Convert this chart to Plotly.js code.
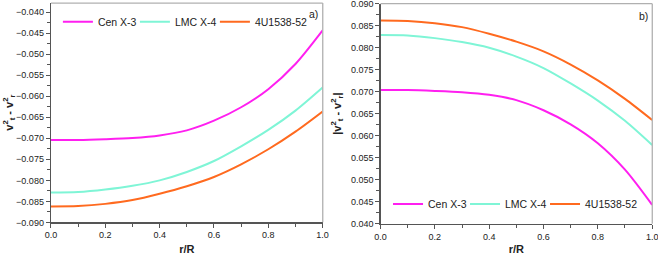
<!DOCTYPE html>
<html>
<head>
<meta charset="utf-8">
<script src="https://cdn.plot.ly/plotly-3.0.1.min.js"></script>
<style>html,body{margin:0;padding:0;background:#fff;}#chart{width:658px;height:255px;}</style>
</head>
<body>
<div id="chart"></div>
<script>
// r/R sample positions
var rR = [0.0, 0.1, 0.2, 0.3, 0.4, 0.5, 0.6, 0.7, 0.8, 0.9, 1.0];

// panel a) v_t^2 - v_r^2
var cenA  = [-0.0704, -0.0704, -0.0702, -0.0699, -0.0693, -0.0681, -0.0658, -0.0626, -0.0583, -0.0523, -0.0443];
var lmcA  = [-0.0829, -0.0828, -0.0822, -0.0813, -0.0800, -0.0780, -0.0754, -0.0719, -0.0680, -0.0634, -0.0579];
var u15A  = [-0.0862, -0.0861, -0.0856, -0.0847, -0.0832, -0.0814, -0.0792, -0.0762, -0.0726, -0.0684, -0.0636];

// panel b) |v_t^2 - v_r^2|
var cenB  = [0.0704, 0.0704, 0.0702, 0.0699, 0.0693, 0.0681, 0.0658, 0.0626, 0.0583, 0.0523, 0.0443];
var lmcB  = [0.0829, 0.0828, 0.0822, 0.0813, 0.0800, 0.0780, 0.0754, 0.0719, 0.0680, 0.0634, 0.0579];
var u15B  = [0.0862, 0.0861, 0.0856, 0.0847, 0.0832, 0.0814, 0.0792, 0.0762, 0.0726, 0.0684, 0.0636];

var names = ['Cen X-3', 'LMC X-4', '4U1538-52'];
var colors = ['#ff1ff0', '#7ff5d6', '#ff6a1f'];
// legend entry text-slot widths (px) to keep entries compact; last one natural
var entryW = [32, 35, 0];

var font = 'Liberation Sans, Arial, sans-serif';
var axCol = '#555555';

function tr(y, i, xa, ya, lg) {
  var t = {x: rR, y: y, name: names[i], type: 'scatter', mode: 'lines',
          line: {color: colors[i], width: 2, shape: 'spline', smoothing: 0.8},
          xaxis: xa, yaxis: ya, legend: lg, hoverinfo: 'skip'};
  if (entryW[i]) t.legendwidth = entryW[i];
  return t;
}

var data = [
  tr(cenA, 0, 'x', 'y', 'legend'), tr(lmcA, 1, 'x', 'y', 'legend'), tr(u15A, 2, 'x', 'y', 'legend'),
  tr(cenB, 0, 'x2', 'y2', 'legend2'), tr(lmcB, 1, 'x2', 'y2', 'legend2'), tr(u15B, 2, 'x2', 'y2', 'legend2')
];

function xBase(dom, anchor, range) {
  return {domain: dom, anchor: anchor, range: range, autorange: false,
    tick0: 0, dtick: 0.2, tickformat: '.1f', ticks: 'outside', ticklen: 4, tickwidth: 1, tickcolor: axCol,
    minor: {dtick: 0.1, ticks: 'outside', ticklen: 3, tickwidth: 1, tickcolor: axCol},
    showline: true, linecolor: axCol, linewidth: 1.3, showgrid: false, zeroline: false,
    ticklabeloverflow: 'allow',
    tickfont: {family: font, size: 9, color: '#222'},
    title: {text: '<b>r/R</b>', font: {family: font, size: 11, color: '#222'}, standoff: 6}};
}
function yBase(dom, anchor, range, t0) {
  return {domain: dom, anchor: anchor, range: range, autorange: false,
    tick0: t0, dtick: 0.005, tickformat: '.3f', ticks: 'outside', ticklen: 4, tickwidth: 1, tickcolor: axCol,
    minor: {dtick: 0.0025, ticks: 'outside', ticklen: 3, tickwidth: 1, tickcolor: axCol},
    showline: true, linecolor: axCol, linewidth: 1.3, showgrid: false, zeroline: false,
    ticklabeloverflow: 'allow',
    tickfont: {family: font, size: 9, color: '#222'}};
}
function overlayAx(over, anchor, range, dtick, mdtick, t0) {
  return {overlaying: over, anchor: anchor, range: range, autorange: false, tick0: t0,
    dtick: dtick, ticks: 'inside', ticklen: 4, tickwidth: 1, tickcolor: axCol,
    minor: {dtick: mdtick, ticks: 'inside', ticklen: 3, tickwidth: 1, tickcolor: axCol},
    showticklabels: false, showline: false, showgrid: false, zeroline: false};
}

var xDomA = [0.0775, 0.4905], xDomB = [0.5783, 0.9913];
var yDomA = [0.128, 0.988], yDomB = [0.1227, 0.9855];
var xRange = [0, 1.0005];
var yRangeA = [-0.090, -0.0378], yRangeB = [0.040, 0.09003];

var layout = {
  width: 658, height: 255,
  margin: {l: 0, r: 0, t: 0, b: 0},
  paper_bgcolor: '#ffffff', plot_bgcolor: '#ffffff',
  showlegend: true,
  font: {family: font, color: '#222'},
  xaxis: xBase(xDomA, 'y', xRange),
  yaxis: yBase(yDomA, 'x', yRangeA, -0.09),
  xaxis2: xBase(xDomB, 'y2', xRange),
  yaxis2: yBase(yDomB, 'x2', yRangeB, 0.04),
  xaxis3: overlayAx('x', 'y3', xRange, 0.2, 0.1, 0),
  yaxis3: overlayAx('y', 'x3', yRangeA, 0.005, 0.0025, -0.09),
  xaxis4: overlayAx('x2', 'y4', xRange, 0.2, 0.1, 0),
  yaxis4: overlayAx('y2', 'x4', yRangeB, 0.005, 0.0025, 0.04),
  legend: {orientation: 'h', x: 0.088, y: 0.915, xanchor: 'left', yanchor: 'middle',
    font: {family: font, size: 10.5, color: '#222'}, bgcolor: 'rgba(0,0,0,0)', itemwidth: 30},
  legend2: {orientation: 'h', x: 0.5897, y: 0.2, xanchor: 'left', yanchor: 'middle',
    font: {family: font, size: 10.5, color: '#222'}, bgcolor: 'rgba(0,0,0,0)', itemwidth: 30},
  shapes: [
    {type: 'line', xref: 'x domain', yref: 'y domain', x0: 0, x1: 1, y0: 1, y1: 1, line: {color: '#b0b0b0', width: 1.3}},
    {type: 'line', xref: 'x domain', yref: 'y domain', x0: 1, x1: 1, y0: 0, y1: 1, line: {color: '#b0b0b0', width: 1.3}},
    {type: 'line', xref: 'x2 domain', yref: 'y2 domain', x0: 0, x1: 1, y0: 1, y1: 1, line: {color: '#b0b0b0', width: 1.3}},
    {type: 'line', xref: 'x2 domain', yref: 'y2 domain', x0: 1, x1: 1, y0: 0, y1: 1, line: {color: '#b0b0b0', width: 1.3}}
  ],
  annotations: [
    {text: 'a)', xref: 'x domain', yref: 'y domain', x: 0.99, y: 0.95, xanchor: 'right', yanchor: 'middle', showarrow: false, font: {family: font, size: 10.5, color: '#222'}},
    {text: 'b)', xref: 'x2 domain', yref: 'y2 domain', x: 0.99, y: 0.945, xanchor: 'right', yanchor: 'middle', showarrow: false, font: {family: font, size: 10.5, color: '#222'}},
    {text: '<b>v<sup>2</sup><sub>t</sub> - v<sup>2</sup><sub>r</sub></b>', xref: 'paper', yref: 'y domain', x: 9/658, y: 0.5, xanchor: 'center', yanchor: 'middle', textangle: -90, showarrow: false, font: {family: font, size: 11, color: '#222'}},
    {text: '<b>|v<sup>2</sup><sub>t</sub> - v<sup>2</sup><sub>r</sub>|</b>', xref: 'paper', yref: 'y2 domain', x: 337/658, y: 0.5, xanchor: 'center', yanchor: 'middle', textangle: -90, showarrow: false, font: {family: font, size: 11, color: '#222'}}
  ]
};

Plotly.newPlot('chart', data, layout, {staticPlot: true, displayModeBar: false});
</script>
</body>
</html>
